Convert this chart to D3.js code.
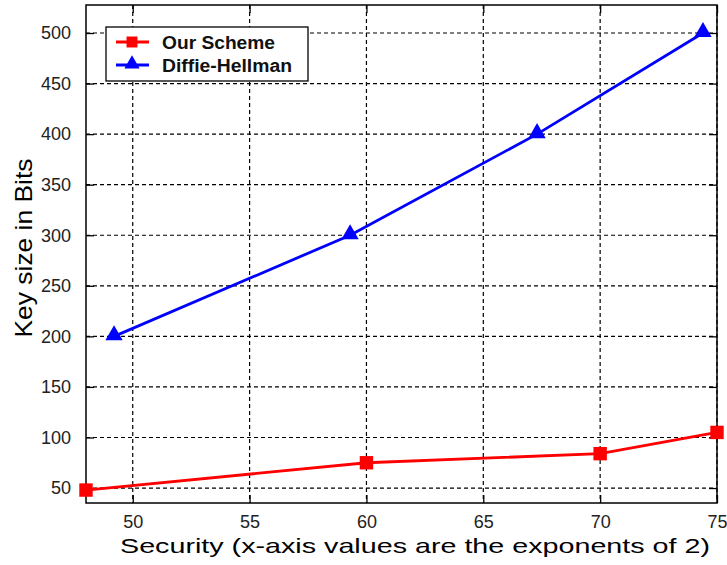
<!DOCTYPE html>
<html>
<head>
<meta charset="utf-8">
<script src="https://cdn.jsdelivr.net/npm/d3@7"></script>
<style>
  body { margin: 0; background: #fff; }
  text { font-family: "Liberation Sans", Arial, sans-serif; }
</style>
</head>
<body>
<script>
// data
const schemeX = [48, 60, 70, 75];
const schemeY = [48, 75, 84, 105];
const dhX = [49.2, 59.3, 67.3, 74.4];
const dhY = [200, 300, 400, 500];
const xTicks = [50, 55, 60, 65, 70, 75];
const yTicks = [50, 100, 150, 200, 250, 300, 350, 400, 450, 500];
const seriesNames = ["Our Scheme", "Diffie-Hellman"];

let W = 727, H = 565;
let plotLeft = 86, plotRight = 717, plotTop = 5, plotBottom = 503;

let svg = d3.select("body").append("svg")
  .attr("width", W)
  .attr("height", H);

let x = d3.scaleLinear().domain([48, 75]).range([plotLeft, plotRight]);
let y = d3.scaleLinear().domain([35.2, 527.7]).range([plotBottom, plotTop]);

// grid
let grid = svg.append("g");
grid.selectAll(".gx")
  .data(xTicks)
  .enter().append("line")
  .attr("x1", d => x(d)).attr("x2", d => x(d))
  .attr("y1", plotTop).attr("y2", plotBottom)
  .attr("stroke", "#000").attr("stroke-width", 1.2)
  .attr("stroke-dasharray", "4,3");
grid.selectAll(".gy")
  .data(yTicks)
  .enter().append("line")
  .attr("x1", plotLeft).attr("x2", plotRight)
  .attr("y1", d => y(d)).attr("y2", d => y(d))
  .attr("stroke", "#000").attr("stroke-width", 1.2)
  .attr("stroke-dasharray", "4,3");

// axes, ticks pointing inward
let xAxis = d3.axisBottom(x).tickValues(xTicks).tickSizeInner(-8).tickSizeOuter(0).tickPadding(14);
let yAxis = d3.axisLeft(y).tickValues(yTicks).tickSizeInner(-8).tickSizeOuter(0).tickPadding(15);

let gx = svg.append("g")
  .attr("transform", "translate(0," + plotBottom + ")")
  .call(xAxis);
let gy = svg.append("g")
  .attr("transform", "translate(" + plotLeft + ",0)")
  .call(yAxis);
svg.append("g")
  .attr("transform", "translate(0," + plotTop + ")")
  .call(d3.axisTop(x).tickValues(xTicks).tickSizeInner(-8).tickSizeOuter(0).tickFormat(""));
svg.append("g")
  .attr("transform", "translate(" + plotRight + ",0)")
  .call(d3.axisRight(y).tickValues(yTicks).tickSizeInner(-8).tickSizeOuter(0).tickFormat(""));

svg.selectAll(".domain").remove();
svg.selectAll(".tick line").attr("stroke", "#000").attr("stroke-width", 1.3);
[gx, gy].forEach(g => g.selectAll("text")
  .style("font-size", "18px")
  .attr("fill", "#222"));
gx.selectAll("text").attr("dy", "0.6em");

// frame
svg.append("rect")
  .attr("x", plotLeft).attr("y", plotTop)
  .attr("width", plotRight - plotLeft).attr("height", plotBottom - plotTop)
  .attr("fill", "none").attr("stroke", "#000").attr("stroke-width", 1.5);

// series
let line = d3.line().x(d => x(d[0])).y(d => y(d[1]));
let scheme = schemeX.map((v, i) => [v, schemeY[i]]);
let dh = dhX.map((v, i) => [v, dhY[i]]);

svg.append("path").datum(scheme)
  .attr("d", line).attr("fill", "none")
  .attr("stroke", "#ff0000").attr("stroke-width", 2.8);
svg.append("path").datum(dh)
  .attr("d", line).attr("fill", "none")
  .attr("stroke", "#0000ff").attr("stroke-width", 2.8);

let sq = d3.symbol().type(d3.symbolSquare).size(180);
let tri = d3.symbol().type(d3.symbolTriangle).size(130);

svg.append("g").selectAll("path")
  .data(scheme).enter().append("path")
  .attr("d", sq)
  .attr("transform", d => "translate(" + x(d[0]) + "," + y(d[1]) + ")")
  .attr("fill", "#ff0000");
svg.append("g").selectAll("path")
  .data(dh).enter().append("path")
  .attr("d", tri)
  .attr("transform", d => "translate(" + x(d[0]) + "," + (y(d[1]) - 1) + ")")
  .attr("fill", "#0000ff");

// legend
let legend = svg.append("g");
legend.append("rect")
  .attr("x", 106).attr("y", 27)
  .attr("width", 202).attr("height", 54)
  .attr("fill", "#fff").attr("stroke", "#000").attr("stroke-width", 1.3);
let colors = ["#ff0000", "#0000ff"];
let syms = [d3.symbol().type(d3.symbolSquare).size(120), d3.symbol().type(d3.symbolTriangle).size(100)];
let labelWidths = [113, 130];
seriesNames.forEach((name, i) => {
  let cy = 42 + i * 23;
  legend.append("line")
    .attr("x1", 116).attr("x2", 149)
    .attr("y1", cy).attr("y2", cy)
    .attr("stroke", colors[i]).attr("stroke-width", 2.8);
  legend.append("path")
    .attr("d", syms[i])
    .attr("transform", "translate(132," + (cy - (i ? 1 : 0)) + ")")
    .attr("fill", colors[i]);
  legend.append("text")
    .attr("x", 162).attr("y", cy + 6.5)
    .attr("textLength", labelWidths[i])
    .attr("lengthAdjust", "spacingAndGlyphs")
    .style("font-size", "18px")
    .style("font-weight", "bold")
    .attr("fill", "#111")
    .text(name);
});

// axis titles
svg.append("text")
  .attr("x", 415).attr("y", 553)
  .attr("text-anchor", "middle")
  .attr("textLength", 590)
  .attr("lengthAdjust", "spacingAndGlyphs")
  .style("font-size", "21px")
  .text("Security (x-axis values are the exponents of 2)");

svg.append("text")
  .attr("transform", "translate(32,248) rotate(-90)")
  .attr("text-anchor", "middle")
  .attr("textLength", 179)
  .attr("lengthAdjust", "spacingAndGlyphs")
  .style("font-size", "24px")
  .text("Key size in Bits");
</script>
</body>
</html>
